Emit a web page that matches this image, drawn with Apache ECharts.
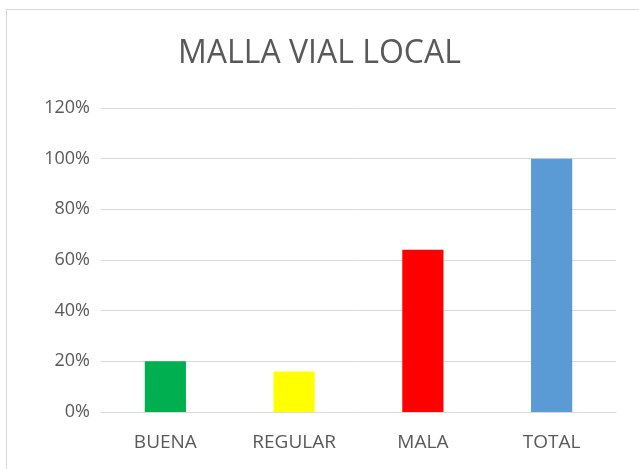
<!DOCTYPE html>
<html><head><meta charset="utf-8">
<script src="https://cdn.jsdelivr.net/npm/echarts@6/dist/echarts.min.js"></script>
<style>html,body{margin:0;padding:0;background:#fff}#c{width:639px;height:469px}</style>
</head><body><div id="c"></div>
<script>
const categories = ['BUENA', 'REGULAR', 'MALA', 'TOTAL'];
const values = [0.20, 0.16, 0.64, 1.00];
const barColors = ['#00b050', '#ffff00', '#ff0000', '#5b9bd5'];
const titleText = 'MALLA VIAL LOCAL';

const chart = echarts.init(document.getElementById('c'), null, {renderer: 'canvas'});
chart.setOption({
  animation: false,
  backgroundColor: '#fff',
  graphic: [{
    type: 'rect', silent: true,
    shape: {x: 6.5, y: 9.5, width: 700, height: 500},
    style: {fill: 'none', stroke: '#d9d9d9', lineWidth: 1}
  }],
  title: {
    text: titleText, left: 'center', top: 33,
    textStyle: {color: '#595959', fontSize: 32, fontWeight: 'normal', fontFamily: 'Open Sans'}
  },
  grid: {left: 101, right: 23, top: 108, bottom: 57},
  xAxis: {
    type: 'category', data: categories,
    axisLine: {show: true, lineStyle: {color: '#d9d9d9'}},
    axisTick: {show: false},
    axisLabel: {color: '#595959', fontSize: 19, fontFamily: 'Open Sans', margin: 21}
  },
  yAxis: {
    type: 'value', min: 0, max: 1.2, interval: 0.2,
    axisLine: {show: false}, axisTick: {show: false},
    splitLine: {lineStyle: {color: '#d9d9d9', width: 1}},
    axisLabel: {color: '#595959', fontSize: 18, fontFamily: 'Open Sans', margin: 11,
      formatter: v => Math.round(v * 100) + '%'}
  },
  series: [{
    type: 'bar', barWidth: '32%',
    data: values.map((v, i) => ({value: v, itemStyle: {color: barColors[i]}}))
  }]
});
</script></body></html>
